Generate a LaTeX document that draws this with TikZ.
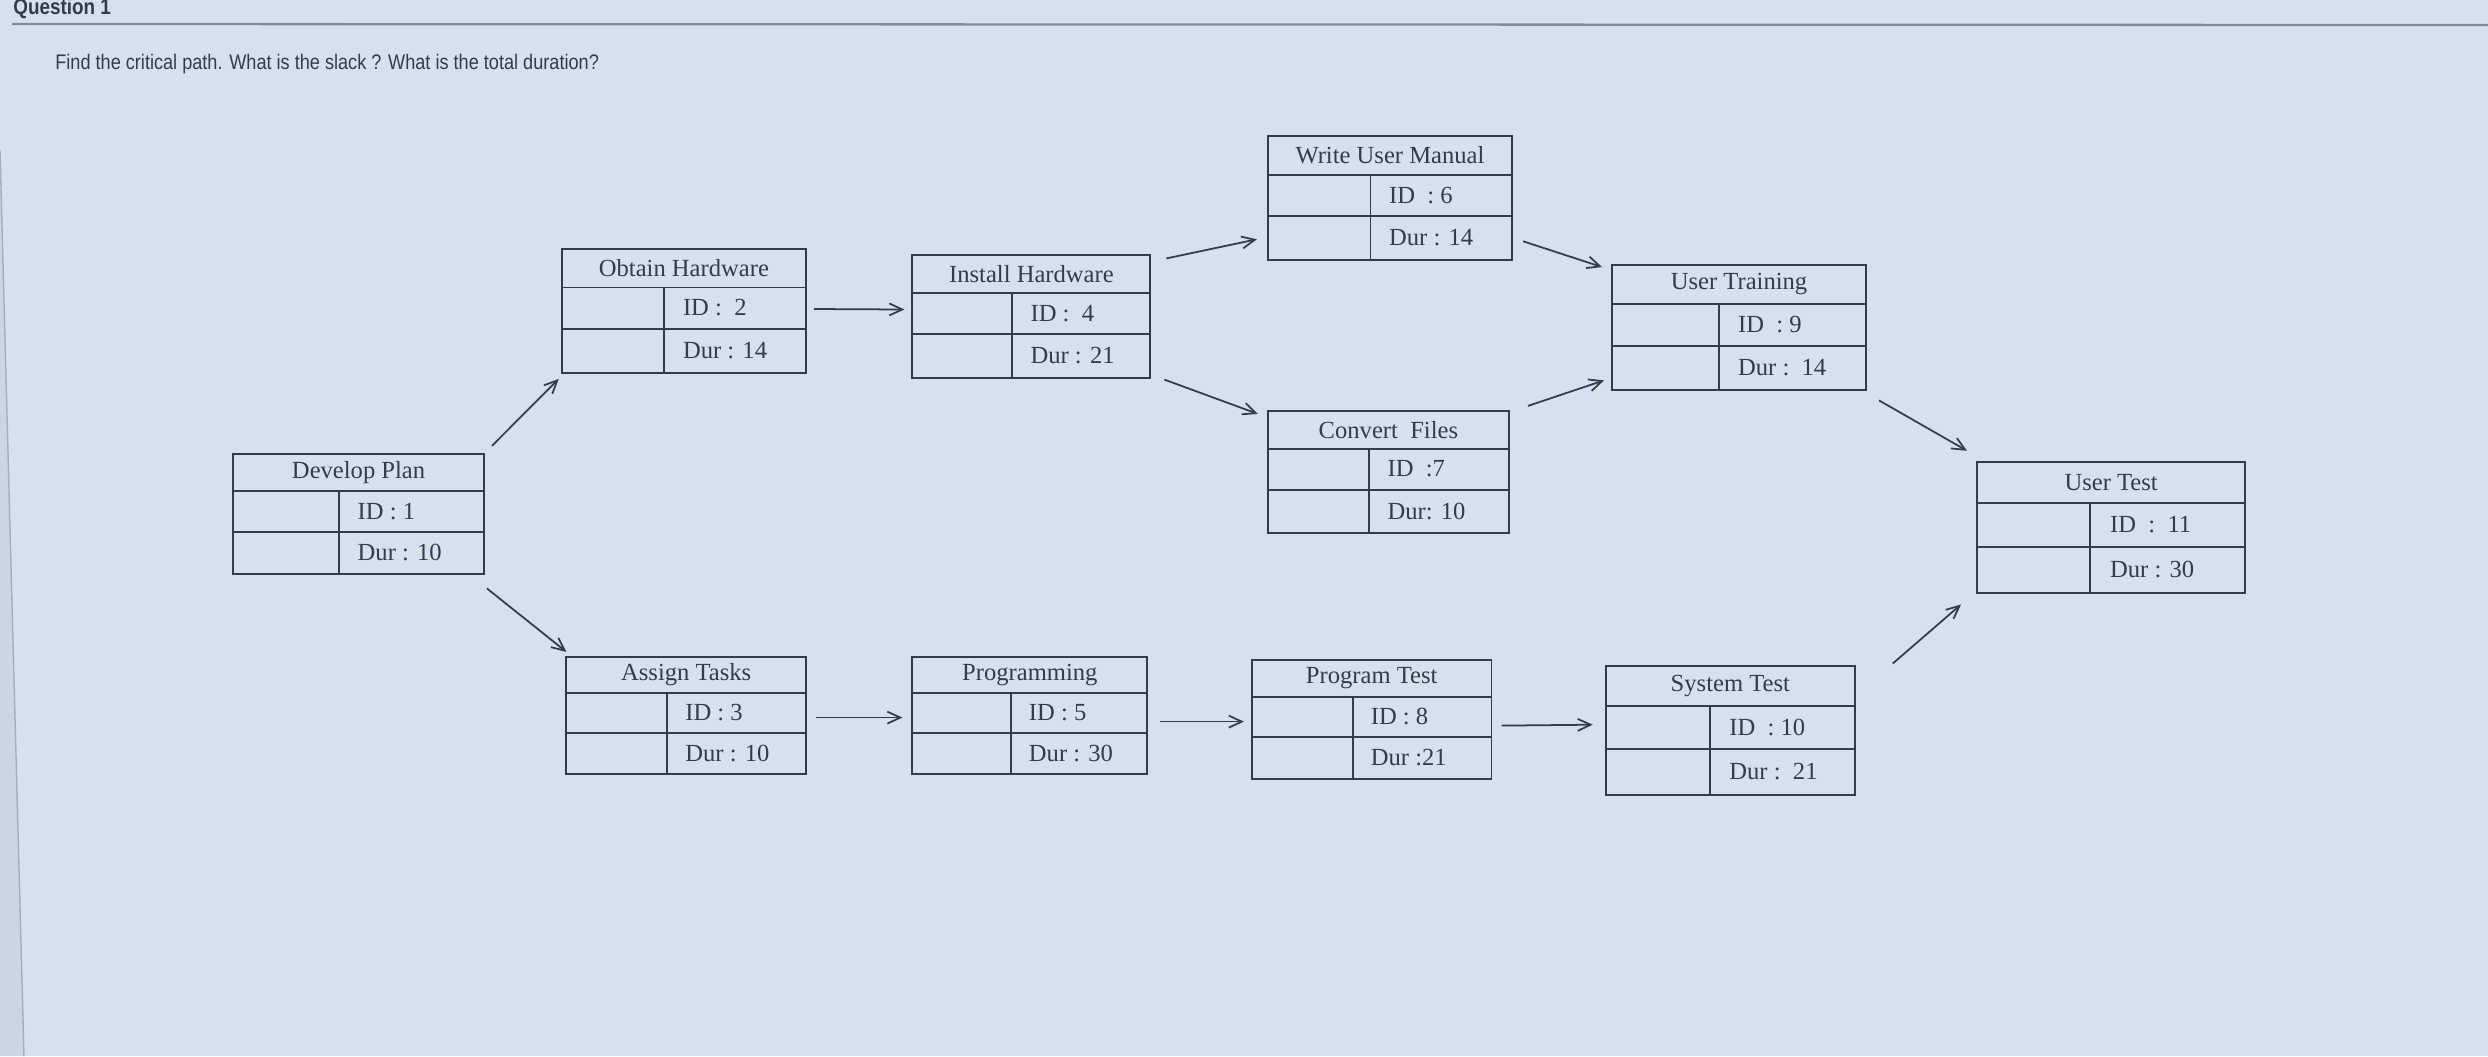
\documentclass[tikz,border=0pt]{standalone}
\usepackage{fontspec}
\setmainfont{Liberation Serif}
\newfontfamily\qfont[FakeStretch=0.86]{Liberation Sans}
\usetikzlibrary{arrows.meta, positioning, calc}

\definecolor{screen}{RGB}{214,225,237}
\definecolor{edgeband}{RGB}{202,214,228}
\definecolor{ink}{RGB}{52,60,72}
\definecolor{rulegrey}{RGB}{128,140,155}

% activity box: name, centre, width, height (px), title, id, duration
\newcommand{\taskbox}[7]{%
  \node[box, minimum width=#3*0.02cm, minimum height=#4*0.02cm] (#1) at (#2) {};
  \draw[cell] (#1.north west) ++(0,{0.31*#4}) -- ++(#3,0);
  \draw[cell] (#1.north west) ++(0,{0.645*#4}) -- ++(#3,0);
  \draw[cell] (#1.north west) ++({0.42*#3},{0.31*#4}) -- ++(0,{0.69*#4});
  \node[lbl] (#1-t) at ($(#1.north)+(0,{0.155*#4})$) {#5};
  \node[lbl, anchor=west] (#1-id) at ($(#1.north west)+({0.495*#3},{0.475*#4})$) {#6};
  \node[lbl, anchor=west] (#1-dur) at ($(#1.north west)+({0.495*#3},{0.82*#4})$) {#7};
}

\begin{document}
\begin{tikzpicture}[x=0.02cm, y=-0.02cm, >=Stealth,
    box/.style={draw=ink, line width=1.1pt, inner sep=0pt, outer sep=0pt},
    cell/.style={draw=ink, line width=1.1pt},
    lbl/.style={inner sep=0pt, text=ink, font=\fontsize{14}{16}\selectfont},
    arr/.style={draw=ink, line width=1pt, -{Straight Barb[length=0.26cm, width=0.24cm]}}]
    \useasboundingbox (0,0) rectangle (2488,1056);
    \fill[screen] (0,0) rectangle (2488,1056);
    \fill[edgeband] (0,150) -- (24,1056) -- (0,1056) -- cycle;
    \draw[rulegrey!70, line width=0.8pt] (0,150) -- (24,1056);

    % header
    \node[anchor=base west, inner sep=0pt, text=ink, font=\qfont\bfseries\fontsize{12.5}{14}\selectfont] (qno) at (13,14) {Question 1};
    \draw[rulegrey, line width=1.3pt] (12,24) -- (2488,25);
    \node[anchor=base west, inner sep=0pt, text=ink, font=\qfont\fontsize{12}{14}\selectfont] (qtext) at (55,69) {Find the critical path. What is the slack ? What is the total duration?};

    % activities
    \taskbox{plan}{358.6,514.1}{250.7}{120.6}{Develop Plan}{ID : 1}{Dur : 10}
    \taskbox{obtain}{683.9,311.0}{244.3}{123.8}{Obtain Hardware}{ID :\ \ 2}{Dur : 14}
    \taskbox{install}{1031.4,316.5}{238}{122.2}{Install Hardware}{ID :\ \ 4}{Dur : 21}
    \taskbox{manual}{1390,198.3}{244.3}{123.8}{Write User Manual}{ID\ \ : 6}{Dur : 14}
    \taskbox{convert}{1388.4,472.0}{241.2}{122.2}{Convert\ \ Files}{ID\ \ :7}{Dur: 10}
    \taskbox{training}{1739.0,327.7}{253.9}{125.3}{User Training}{ID\ \ : 9}{Dur :\ \ 14}
    \taskbox{usertest}{2111.1,527.6}{268.2}{131.7}{User Test}{ID\ \ :\ \ 11}{Dur : 30}
    \taskbox{assign}{686.2,715.6}{239.6}{117.4}{Assign Tasks}{ID : 3}{Dur : 10}
    \taskbox{prog}{1029.8,715.6}{234.8}{117.4}{Programming}{ID : 5}{Dur : 30}
    \taskbox{ptest}{1371.7,719.6}{239.6}{119.0}{Program Test}{ID : 8}{Dur :21}
    \taskbox{systest}{1730.3,730.7}{249.1}{128.5}{System Test}{ID\ \ : 10}{Dur :\ \ 21}

    % dependencies
    \draw[arr] ($(plan.north east)+(8,-8)$) -- ($(obtain.south west)+(-3,6)$);
    \draw[arr] ($(plan.south east)+(3,14)$) -- ($(assign.north west)+(0,-5)$);
    \draw[arr] ($(obtain.east)+(8,-2)$) -- ($(install.west)+(-8,-7)$);
    \draw[arr] ($(install.north east)+(16,3)$) -- ($(manual.west)+(-11,41)$);
    \draw[arr] ($(install.south east)+(14,2)$) -- ($(convert.north west)+(-10,3)$);
    \draw[arr] ($(manual.east)+(11,43)$) -- ($(training.north west)+(-10,2)$);
    \draw[arr] ($(convert.north east)+(19,-5)$) -- ($(training.south west)+(-8,-10)$);
    \draw[arr] ($(training.south east)+(13,10)$) -- ($(usertest.north west)+(-10,-11)$);
    \draw[arr] ($(assign.east)+(10,2)$) -- ($(prog.west)+(-10,2)$);
    \draw[arr] ($(prog.east)+(13,6)$) -- ($(ptest.west)+(-8,2)$);
    \draw[arr] ($(ptest.east)+(10,6)$) -- ($(systest.west)+(-13,-6)$);
    \draw[arr] ($(systest.north east)+(38,-3)$) -- ($(usertest.south west)+(-16,11)$);
\end{tikzpicture}
\end{document}
